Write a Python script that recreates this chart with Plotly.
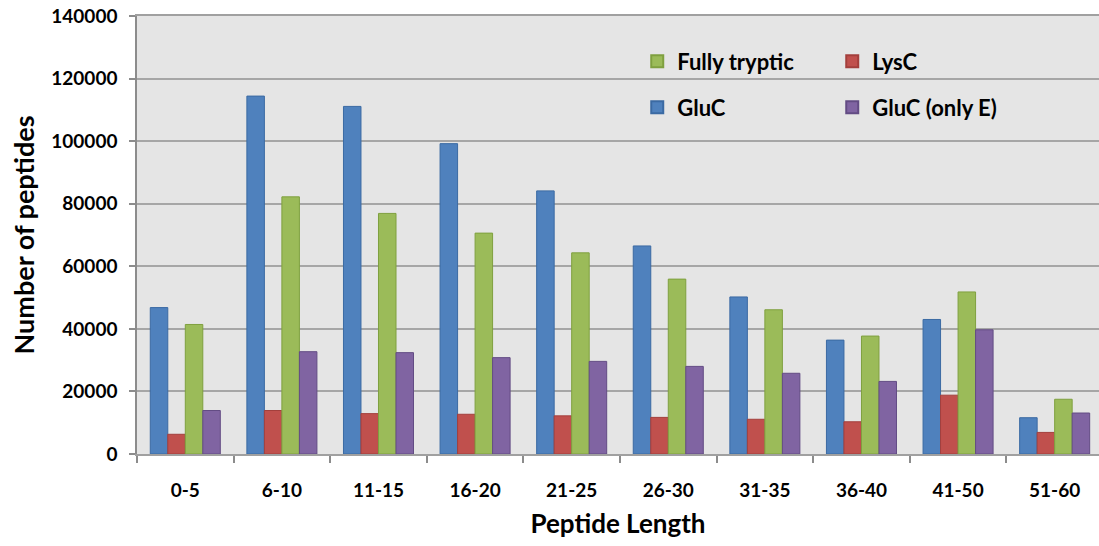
import plotly.graph_objects as go

categories = ["0-5", "6-10", "11-15", "16-20", "21-25", "26-30", "31-35", "36-40", "41-50", "51-60"]
gluc = [46800, 114400, 111100, 99200, 84100, 66500, 50200, 36400, 43000, 11600]
lysc = [6300, 13900, 12900, 12700, 12200, 11700, 11100, 10300, 18800, 6900]
fully_tryptic = [41400, 82200, 76900, 70600, 64300, 55900, 46100, 37700, 51800, 17500]
gluc_only_e = [13900, 32700, 32400, 30800, 29600, 28000, 25800, 23200, 39700, 13100]

FONT = "Lato"

fig = go.Figure()
fig.add_trace(go.Bar(name="GluC", x=categories, y=gluc,
                     marker=dict(color="#4F81BD", line=dict(color="#3B6AA3", width=1)),
                     legend="legend2"))
fig.add_trace(go.Bar(name="LysC", x=categories, y=lysc,
                     marker=dict(color="#C0504D", line=dict(color="#A33F3C", width=1)),
                     legend="legend", legendrank=2))
fig.add_trace(go.Bar(name="Fully tryptic", x=categories, y=fully_tryptic,
                     marker=dict(color="#9BBB59", line=dict(color="#7FA03F", width=1)),
                     legend="legend", legendrank=1))
fig.add_trace(go.Bar(name="GluC (only E)", x=categories, y=gluc_only_e,
                     marker=dict(color="#8064A2", line=dict(color="#634C84", width=1)),
                     legend="legend2"))

legend_common = dict(
    orientation="h",
    bgcolor="rgba(0,0,0,0)",
    font=dict(family=FONT, size=22, color="black", weight="bold"),
    xanchor="left",
    yanchor="middle",
    entrywidth=150,
    itemsizing="constant",
)

fig.update_layout(
    width=1099,
    height=546,
    margin=dict(l=137, r=0, t=16, b=92, autoexpand=False),
    paper_bgcolor="white",
    plot_bgcolor="#E5E5E5",
    barmode="group",
    bargap=0.275,
    bargroupgap=0,
    font=dict(family=FONT, color="black"),
    legend=dict(x=0.52, y=0.896, **legend_common),
    legend2=dict(x=0.52, y=0.791, **legend_common),
    xaxis=dict(
        range=[-0.5, 9.459],
        automargin=False,
        showline=True, mirror=True, linecolor="#A0A0A0", linewidth=1.5,
        ticks="outside", tickson="boundaries", ticklen=7, tickcolor="#8C8C8C", tickwidth=1.5,
        tickfont=dict(family=FONT, size=19, weight="bold", color="black"),
        ticklabelstandoff=18,
        title=dict(text="Peptide Length", font=dict(family=FONT, size=26, weight="bold", color="black"), standoff=15),
        showgrid=False,
    ),
    yaxis=dict(
        range=[0, 140000],
        dtick=20000,
        tickformat="d",
        automargin=False,
        ticklabeloverflow="allow",
        showline=True, linecolor="#8C8C8C", linewidth=1.5,
        ticks="outside", ticklen=6, tickcolor="#8C8C8C", tickwidth=1.5,
        tickfont=dict(family=FONT, size=19, weight="bold", color="black"),
        ticklabelstandoff=8,
        showgrid=True, gridcolor="#A6A6A6", gridwidth=1.5,
        zeroline=False,
        title=dict(text="Number of peptides", font=dict(family=FONT, size=27, weight="bold", color="black"), standoff=9),
    ),
)

fig.write_html("out.html", config={"displayModeBar": False},
               post_script="document.body.style.margin='0';")
